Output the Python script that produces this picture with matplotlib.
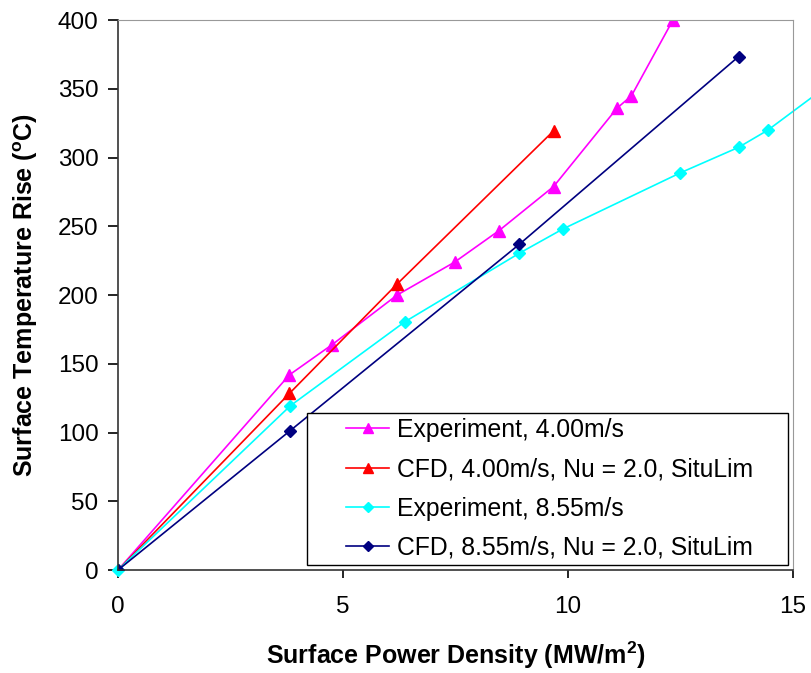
import matplotlib
matplotlib.use("Agg")
import matplotlib.pyplot as plt
from matplotlib.patches import Rectangle

plt.rcParams["font.family"] = ["Liberation Sans", "DejaVu Sans"]
plt.rcParams["mathtext.default"] = "regular"

# Experiment, 4.00 m/s
exp4_x = [0, 3.81, 4.76, 6.2, 7.48, 8.47, 9.68, 11.09, 11.41, 12.33]
exp4_y = [0, 142, 164, 200, 224, 247, 279, 336, 345, 400]

# CFD, 4.00 m/s
cfd4_x = [0, 3.81, 6.2, 9.68]
cfd4_y = [0, 128.5, 208, 319.5]

# Experiment, 8.55 m/s (last point lies past the right edge)
exp8_x = [0, 3.83, 6.37, 8.92, 9.88, 12.5, 13.79, 14.44, 16.0]
exp8_y = [0, 119.5, 180.5, 230.5, 248, 289, 307.5, 320, 358]

# CFD, 8.55 m/s
cfd8_x = [0, 3.83, 8.92, 13.79]
cfd8_y = [0, 101.5, 237, 373.5]

fig = plt.figure(figsize=(8.11, 6.73), dpi=100)
ax = fig.add_axes([0.1455, 0.153, 0.8323, 0.817])

ax.plot(exp4_x, exp4_y, color="#FF00FF", marker="^", markersize=8, lw=1.2,
        label="Experiment, 4.00m/s")
ax.plot(cfd4_x, cfd4_y, color="#FF0000", marker="^", markersize=8, lw=1.2,
        label="CFD, 4.00m/s, Nu = 2.0, SituLim")
ax.plot(exp8_x, exp8_y, color="#00FFFF", marker="D", markersize=6, lw=1.2,
        label="Experiment, 8.55m/s", clip_on=False)
ax.plot(cfd8_x, cfd8_y, color="#000080", marker="D", markersize=6, lw=1.2,
        label="CFD, 8.55m/s, Nu = 2.0, SituLim")

ax.set_xlim(0, 15)
ax.set_ylim(0, 400)
ax.set_xticks([0, 5, 10, 15])
ax.set_yticks(range(0, 401, 50))
ax.tick_params(axis="y", direction="out", length=7, width=1.2, labelsize=17.5, pad=7)
ax.tick_params(axis="x", direction="out", length=5.5, width=1.2, labelsize=17.5, pad=13)

for side in ["top", "right"]:
    ax.spines[side].set_color("#999999")
for side in ["left", "bottom"]:
    ax.spines[side].set_color("#333333")
    ax.spines[side].set_linewidth(1.2)

ax.set_xlabel("Surface Power Density (MW/m$^2$)", fontsize=18, fontweight="bold",
              labelpad=16)
ax.set_ylabel("Surface Temperature Rise ($^o$C)", fontsize=18, fontweight="bold",
              labelpad=13)

# legend frame drawn by hand: Excel pads the sides much more than top/bottom
box = Rectangle((0.2796, 0.0091), 0.7125, 0.2769, transform=ax.transAxes,
                facecolor="white", edgecolor="black", lw=1.0, zorder=4.5)
ax.add_patch(box)
ax.legend(loc="center", bbox_to_anchor=(0.639, 0.1475), fontsize=17.8,
          frameon=False, handlelength=1.75, labelspacing=0.62, borderpad=0.2,
          handletextpad=0.3, markerscale=0.85)

fig.savefig("out.png", dpi=100)
